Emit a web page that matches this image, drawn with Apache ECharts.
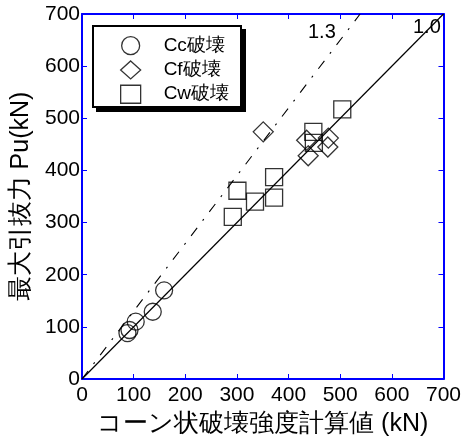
<!DOCTYPE html>
<html>
<head>
<meta charset="utf-8">
<script src="https://cdn.jsdelivr.net/npm/echarts@6/dist/echarts.min.js"></script>
<style>
html,body{margin:0;padding:0;background:#fff;}
#c{width:464px;height:443px;}
</style>
</head>
<body>
<div id="c"></div>
<script>
// ---- data ----
var ccData = [[88, 88], [92, 94], [104, 110], [137, 129], [159, 170]];
var cfData = [[351, 474], [438, 428], [435, 458], [477, 462], [476, 445]];
var cwData = [[504, 517], [448, 474], [449, 453], [372, 387], [372, 348], [301, 361], [335, 340], [292, 311]];
var line10 = [[0, 0], [700, 700]];
var line13 = [[0, 0], [538.5, 700]];
var seriesNames = ['Cc破壊', 'Cf破壊', 'Cw破壊'];
var axisTicks = [0, 700, 100];
var xName = 'コーン状破壊強度計算値 (kN)';
var yName = '最大引抜力 Pu(kN)';

var FONT = 'Liberation Sans';
var BLUE = '#0000ff';
var chart = echarts.init(document.getElementById('c'), null, {renderer: 'canvas'});

function mkAxis(pos, show) {
  return {
    type: 'value', position: pos, min: axisTicks[0], max: axisTicks[1], interval: axisTicks[2],
    axisLine: {show: true, onZero: false, lineStyle: {color: BLUE, width: 2}},
    axisTick: {show: true, inside: true, length: 5, lineStyle: {color: BLUE, width: 1}},
    axisLabel: {show: show, color: '#000', fontSize: 21, fontFamily: FONT, margin: show ? (pos === 'left' ? 2 : 6) : 0},
    splitLine: {show: false}
  };
}
var xB = mkAxis('bottom', true);
xB.name = xName; xB.nameLocation = 'middle'; xB.nameGap = 33;
xB.nameTextStyle = {color: '#000', fontSize: 25, fontFamily: FONT};
var yL = mkAxis('left', true);
yL.name = yName; yL.nameLocation = 'middle'; yL.nameGap = 48;
yL.nameTextStyle = {color: '#000', fontSize: 25, fontFamily: FONT};
var xT = mkAxis('top', false);
var yR = mkAxis('right', false);

var mstyle = {color: 'transparent', borderColor: '#000', borderWidth: 1.3};

chart.setOption({
  animation: false,
  backgroundColor: '#fff',
  grid: {left: 82, right: 18, top: 14, bottom: 64},
  xAxis: [xB, xT],
  yAxis: [yL, yR],
  legend: {
    orient: 'vertical', left: 92, top: 25,
    data: seriesNames,
    padding: [11, 12, 8, 28],
    itemWidth: 20, itemHeight: 18, itemGap: 5,
    itemStyle: mstyle,
    textStyle: {color: '#000', fontSize: 19, fontFamily: FONT, padding: [0, 0, 0, 18]},
    z: 10
  },
  graphic: [
    {type: 'rect', left: 96, top: 29, z: 5, shape: {width: 150, height: 83}, style: {fill: '#000'}},
    {type: 'rect', left: 92, top: 25, z: 6, shape: {width: 148, height: 81}, style: {fill: '#fff', stroke: '#000', lineWidth: 2}},
    {type: 'text', left: 308, top: 22, style: {text: '1.3', font: '20px ' + FONT, fill: '#000'}},
    {type: 'text', left: 413, top: 17, style: {text: '1.0', font: '20px ' + FONT, fill: '#000'}}
  ],
  series: [
    {type: 'line', data: line10, symbol: 'none', silent: true, lineStyle: {color: '#000', width: 1.2}, z: 1},
    {type: 'line', data: line13, symbol: 'none', silent: true, lineStyle: {color: '#000', width: 1.1, type: [10, 9, 2, 9]}, z: 1},
    {name: seriesNames[0], type: 'scatter', data: ccData, symbol: 'circle', symbolSize: 17, itemStyle: mstyle, z: 3},
    {name: seriesNames[1], type: 'scatter', data: cfData, symbol: 'diamond', symbolSize: 20, itemStyle: mstyle, z: 3},
    {name: seriesNames[2], type: 'scatter', data: cwData, symbol: 'rect', symbolSize: 17, itemStyle: mstyle, z: 3}
  ]
});
</script>
</body>
</html>
